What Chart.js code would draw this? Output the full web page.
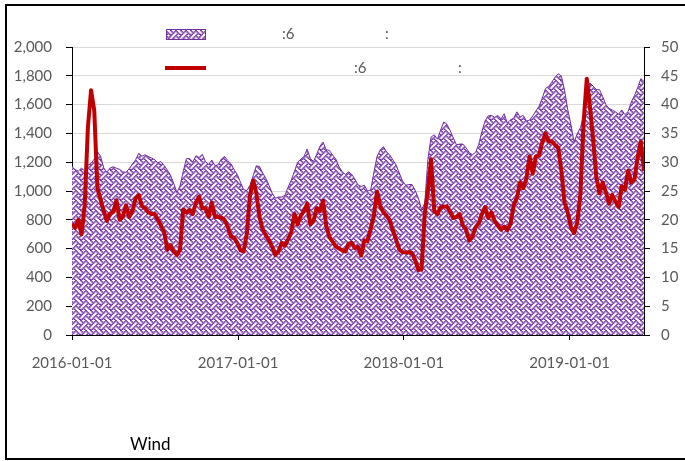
<!DOCTYPE html>
<html lang="zh">
<head>
    <meta charset="UTF-8">
    <title>chart</title>
    <script src="https://cdn.jsdelivr.net/npm/chart.js@4.4.0/dist/chart.umd.min.js"></script>
    <style>
        body { margin: 0; background: #fff; overflow: hidden; }
        #wrap { position: relative; width: 685px; height: 461px; }
        #frame { position: absolute; left: 5px; top: 4px; width: 680px; height: 452px;
                 border-left: 2px solid #000; border-top: 2px solid #000; border-bottom: 2px solid #000; }
        canvas { position: absolute; left: 0; top: 0; }
    </style>
</head>
<body>
<div id="wrap">
    <div id="frame"></div>
    <canvas id="myChart" width="685" height="461"></canvas>
</div>

<script type="text/javascript">
    // weekly observations, starting 2016-01-01
    var startDate = '2016-01-01';
    var stepDays = 7;

    // left axis series (area)
    var areaValues = [
        1170, 1148, 1138, 1160, 1138, 1180, 1192, 1222, 1275, 1240,
        1160, 1130, 1160, 1168, 1158, 1150, 1132, 1130, 1155, 1188,
        1215, 1262, 1242, 1252, 1240, 1230, 1218, 1196, 1204, 1178,
        1145, 1110, 1055, 990, 1035, 1136, 1225, 1225, 1200, 1245,
        1232, 1255, 1205, 1185, 1215, 1175, 1182, 1222, 1240, 1212,
        1190, 1150, 1115, 1062, 1010, 1003, 1040, 1105, 1175, 1170,
        1125, 1088, 1040, 985, 950, 958, 958, 970, 1027, 1075,
        1137, 1200, 1220, 1240, 1292, 1226, 1205, 1255, 1310, 1340,
        1287, 1282, 1250, 1223, 1170, 1136, 1114, 1134, 1116, 1084,
        1042, 1032, 1040, 1000, 1008, 1130, 1241, 1285, 1308, 1270,
        1250, 1216, 1180, 1125, 1070, 1040, 1045, 1045, 1005, 950,
        872, 915, 1220, 1375, 1390, 1360, 1424, 1480, 1463, 1420,
        1368, 1320, 1326, 1326, 1300, 1267, 1252, 1268, 1325, 1414,
        1487, 1522, 1525, 1512, 1525, 1500, 1537, 1472, 1494, 1506,
        1550, 1514, 1525, 1486, 1492, 1522, 1556, 1590, 1646, 1712,
        1726, 1756, 1790, 1815, 1798, 1700, 1565, 1462, 1340, 1398,
        1440, 1525, 1684, 1750, 1728, 1705, 1703, 1655, 1600, 1573,
        1563, 1550, 1533, 1563, 1530, 1552, 1618, 1663, 1717, 1780,
        1761
    ];

    // right axis series (line)
    var lineValues = [
        19.3, 18.6, 20.0, 17.5, 22.5, 36, 42.5, 39, 25.5, 23.5,
        21.5, 19.8, 21.1, 21.4, 23.4, 20, 20.6, 22.5, 20.5, 21.5,
        23.7, 24.3, 22.4, 22, 21.3, 21, 21, 20, 19, 17.9,
        14.8, 15.6, 14.5, 13.9, 14.8, 21.8, 21.3, 21.7, 21, 23,
        24, 22, 22, 20.5, 23, 20.5, 20.5, 20.4, 20, 18.8,
        17.1, 16.9, 16, 14.7, 14.5, 17.5, 24.2, 26.8, 24.7, 20.5,
        18.3, 17.3, 16.4, 15.3, 13.9, 14.5, 16, 15.5, 16.6, 17.8,
        21, 19.2, 20.7, 21.5, 22.8, 19.2, 19.8, 22, 21.5, 23.3,
        19, 17, 16.2, 15.4, 15, 14.7, 14.5, 15.8, 16, 15.1,
        15.3, 13.8, 16.4, 16.3, 18.4, 20.8, 24.9, 22.4, 21.3, 20.7,
        19.9, 18.1, 16.5, 14.8, 14.4, 14.3, 14.4, 14.2, 13, 11.3,
        11.4, 21, 25, 30.5, 21.5, 21, 22.2, 22.3, 22.3, 21.4,
        20.3, 20.5, 21, 19, 18.3, 16.4, 17.1, 18.7, 19.4, 21,
        22.2, 20.3, 21.3, 19.8, 19, 18.3, 18.8, 18.2, 19.3, 22.6,
        23.8, 26.5, 25.5, 27.2, 31, 28, 31, 31.2, 33.5, 35,
        33.6, 33.6, 33, 32.5, 28.5, 23, 21.3, 18.7, 17.7, 19.5,
        24.5, 37, 44.5, 39.6, 34, 27.4, 24.6, 26.5, 24.8, 22.8,
        24.3, 23.2, 22.2, 25.8, 25.2, 28.5, 26.5, 27, 30.8, 33.6,
        28.5
    ];

    var tickLabels = ['2016-01-01', '2017-01-01', '2018-01-01', '2019-01-01'];
    var legendParts = [':6', ':'];
    var sourceText = 'Wind';

    function dayOf(d) {
        return Math.round((Date.parse(d) - Date.parse(startDate)) / 86400000);
    }

    var areaPoints = areaValues.map(function (v, i) { return { x: i * stepDays, y: v }; });
    var linePoints = lineValues.map(function (v, i) { return { x: i * stepDays, y: v }; });
    var lastDay = (areaValues.length - 1) * stepDays;

    var ctx = document.getElementById('myChart').getContext('2d');

    // purple weave hatch, 8px tile shown a bit enlarged
    function makePattern() {
        var bits = [0x88, 0x54, 0x22, 0x45, 0x88, 0x15, 0x22, 0x51];
        var small = document.createElement('canvas');
        small.width = 8; small.height = 8;
        var s = small.getContext('2d');
        s.fillStyle = '#7030a0';
        for (var r = 0; r < 8; r++) {
            for (var c = 0; c < 8; c++) {
                if ((bits[r] >> (7 - c)) & 1) s.fillRect(c, r, 1, 1);
            }
        }
        var tile = document.createElement('canvas');
        tile.width = 10; tile.height = 10;
        var t = tile.getContext('2d');
        t.fillStyle = '#ffffff';
        t.fillRect(0, 0, 10, 10);
        t.imageSmoothingEnabled = true;
        // draw twice, slightly shifted, so the strokes come out a little heavier
        t.drawImage(small, 0, 0, 10, 10);
        t.drawImage(small, 0.6, 0, 10, 10);
        t.drawImage(small, -9.4, 0, 10, 10);
        return ctx.createPattern(tile, 'repeat');
    }
    var hatch = makePattern();

    var overlay = {
        id: 'overlay',
        afterDraw: function (chart) {
            var c = chart.ctx;
            c.save();
            // legend row 1
            c.fillStyle = hatch;
            c.fillRect(166, 29, 39, 10);
            c.strokeStyle = '#7030a0';
            c.lineWidth = 1;
            c.strokeRect(166.5, 29.5, 39, 10);
            // legend row 2
            c.strokeStyle = '#c00000';
            c.lineWidth = 4;
            c.beginPath();
            c.moveTo(165, 68);
            c.lineTo(206, 68);
            c.stroke();
            c.font = '15px Lato';
            c.fillStyle = '#595959';
            c.textBaseline = 'middle';
            c.fillText(legendParts[0], 282, 34);
            c.fillText(legendParts[1], 385, 34);
            c.fillText(legendParts[0], 354, 68);
            c.fillText(legendParts[1], 458, 68);
            // source
            c.font = '17px Lato';
            c.fillStyle = '#000';
            c.fillText(sourceText, 130, 445);
            c.restore();
        }
    };

    Chart.defaults.font.family = 'Lato';
    Chart.defaults.font.size = 15;
    Chart.defaults.color = '#595959';

    var chart = new Chart(ctx, {
        type: 'line',
        data: {
            datasets: [{
                label: 'line',
                data: linePoints,
                yAxisID: 'y1',
                borderColor: '#c00000',
                borderWidth: 4,
                borderJoinStyle: 'round',
                pointRadius: 0,
                fill: false,
                order: 0
            }, {
                label: 'area',
                data: areaPoints,
                yAxisID: 'y',
                borderColor: '#7030a0',
                borderWidth: 1,
                backgroundColor: hatch,
                pointRadius: 0,
                fill: 'origin',
                order: 1
            }]
        },
        options: {
            responsive: false,
            animation: false,
            layout: { padding: { top: 47, left: 0, right: 0, bottom: 0 } },
            plugins: { legend: { display: false }, tooltip: { enabled: false } },
            scales: {
                x: {
                    type: 'linear',
                    min: 0,
                    max: lastDay,
                    grid: { drawOnChartArea: false, tickColor: '#000', tickLength: 5 },
                    border: { color: '#000' },
                    afterBuildTicks: function (axis) {
                        axis.ticks = tickLabels.map(function (d) { return { value: dayOf(d) }; });
                    },
                    ticks: {
                        autoSkip: false,
                        maxRotation: 0,
                        padding: 14,
                        callback: function (v) {
                            for (var i = 0; i < tickLabels.length; i++) {
                                if (dayOf(tickLabels[i]) === v) return tickLabels[i];
                            }
                            return '';
                        }
                    },
                    afterFit: function (s) { s.height = 126; }
                },
                y: {
                    position: 'left',
                    min: 0,
                    max: 2000,
                    grid: { color: '#d9d9d9', tickColor: '#000', tickLength: 6 },
                    border: { color: '#000' },
                    ticks: {
                        stepSize: 200,
                        padding: 14,
                        callback: function (v) { return v.toLocaleString('en-US'); }
                    },
                    afterFit: function (s) { s.width = 72; }
                },
                y1: {
                    position: 'right',
                    min: 0,
                    max: 50,
                    grid: { drawOnChartArea: false, tickColor: '#000', tickLength: 6 },
                    border: { color: '#000' },
                    ticks: { stepSize: 5, padding: 11 },
                    afterFit: function (s) { s.width = 41; }
                }
            }
        },
        plugins: [overlay]
    });
</script>
</body>
</html>
